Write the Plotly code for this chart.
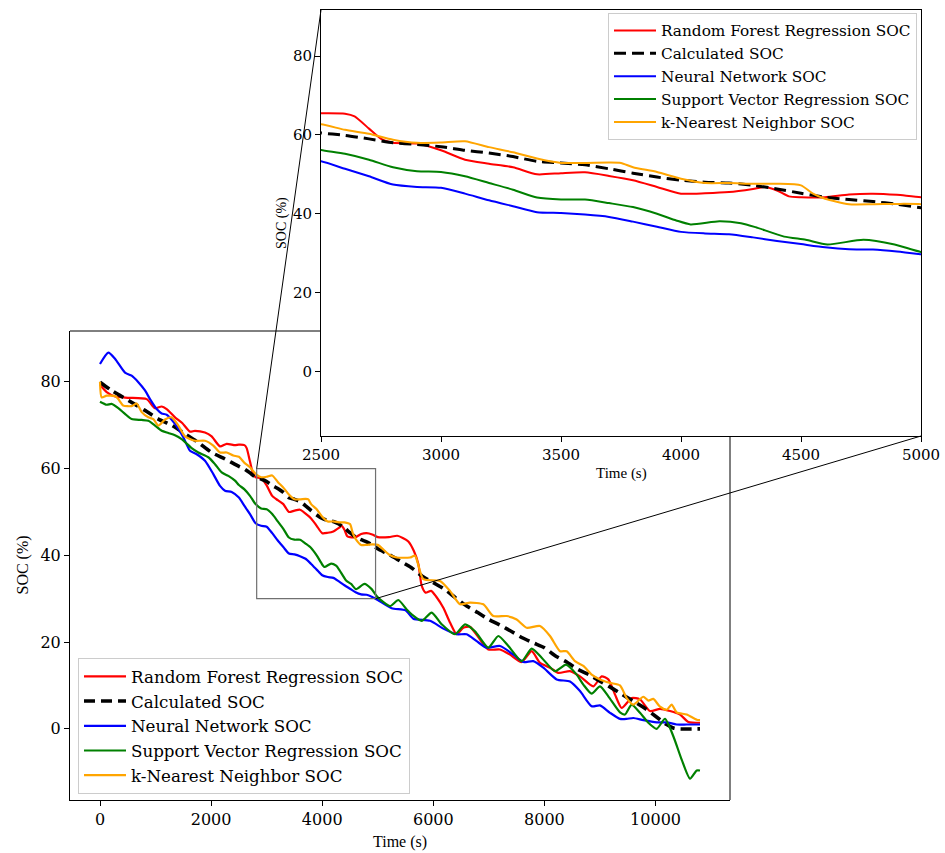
import plotly.graph_objects as go

# ---------------- data: SOC estimates over time ----------------
rf_time = [0, 120, 270, 500, 840, 990, 1110, 1200, 1350, 1480, 1620, 1710, 1890, 2010, 2160,
           2280, 2430, 2500, 2600, 2640, 2700, 2750, 2800, 2900, 3000, 3100, 3200, 3300, 3400,
           3500, 3600, 3700, 3800, 3900, 4000, 4100, 4200, 4300, 4350, 4400, 4450, 4500, 4600,
           4700, 4800, 4900, 5000, 5200, 5350, 5450, 5550, 5650, 5730, 5790, 5860, 5960, 6050,
           6180, 6300, 6420, 6540, 6660, 6840, 6990, 7200, 7380, 7590, 7770, 7920, 8100, 8250,
           8460, 8640, 8880, 9030, 9150, 9270, 9390, 9570, 9720, 9900, 10080, 10260, 10440,
           10590, 10800]
rf_soc = [79.3, 77.6, 76.6, 76.3, 76.0, 73.9, 74.3, 73.7, 71.8, 70.5, 68.5, 68.7, 68.3, 67.4, 65.1,
          65.7, 65.4, 65.5, 65.4, 64.7, 61.6, 59.0, 58.0, 57.8, 56.1, 53.7, 52.7, 51.8, 50.0,
          50.3, 50.5, 49.6, 48.5, 46.8, 45.1, 45.2, 45.5, 46.3, 46.8, 45.9, 44.4, 44.2, 44.2,
          44.9, 45.1, 44.8, 44.2, 44.2, 44.5, 44.0, 43.2, 41.0, 38.0, 33.0, 31.4, 31.8, 30.5,
          27.9, 24.5, 21.8, 23.3, 23.5, 20.6, 18.3, 18.3, 17.1, 15.4, 17.9, 15.2, 14.1, 12.9,
          13.3, 12.1, 9.8, 12.1, 11.4, 7.9, 4.8, 7.1, 6.8, 4.1, 4.6, 4.1, 3.3,
          1.6, 1.4]

calc_time = [0, 210, 510, 810, 1050, 1290, 1530, 1770, 2010, 2250,
             2500, 2600, 2700, 2800, 2900, 3000, 3100, 3200, 3300, 3400,
             3500, 3600, 3700, 3800, 3900, 4000, 4100, 4200, 4300, 4400,
             4500, 4600, 4700, 4800, 4900, 5000,
             5200, 5400, 5600, 5800, 6000, 6200, 6400, 6600, 6800, 7000,
             7200, 7400, 7600, 7800, 8000, 8200, 8400, 8600, 8800, 9000,
             9200, 9400, 9600, 9800, 10000, 10200,
             10320, 10400, 10800]
calc_soc = [79.9, 78.0, 75.7, 73.4, 71.4, 70.0, 68.0, 66.0, 63.7, 62.2,
            60.5, 59.9, 59.0, 58.0, 57.6, 57.0, 56.1, 55.4, 54.5, 53.3,
            52.9, 52.4, 51.4, 50.3, 49.3, 48.5, 48.0, 47.8, 47.2, 46.3,
            45.2, 44.2, 43.6, 43.1, 42.4, 41.5,
            40.2, 38.7, 37.2, 35.2, 33.7, 32.2, 30.2, 28.3, 26.8, 25.2,
            23.9, 22.5, 21.0, 19.8, 18.7, 16.8, 15.4, 13.7, 12.5, 11.0,
            9.5, 7.9, 6.4, 4.8, 2.9, 1.0,
            0.2, 0.0, 0.0]

nn_time = [0, 150, 270, 450, 570, 690, 810, 900, 1020, 1110, 1200, 1350, 1500, 1620, 1740,
           1890, 2040, 2160, 2250, 2370,
           2500, 2600, 2700, 2800, 2900, 3000, 3100, 3200, 3300, 3400,
           3500, 3600, 3700, 3800, 3900, 4000, 4100, 4200, 4300, 4400,
           4500, 4600, 4700, 4800, 4900, 5000,
           5250, 5500, 5640, 5940, 6180, 6420, 6600, 6780, 6960, 7200,
           7440, 7620, 7800, 7980, 8220, 8460, 8640, 8850, 9000, 9180,
           9360, 9480, 9600, 9780, 10020, 10200, 10380, 10560, 10800]
nn_soc = [84.1, 86.7, 85.3, 82.1, 81.4, 79.9, 78.0, 76.0, 73.7, 72.7, 72.4, 70.3, 67.2, 64.1, 63.3,
          61.8, 58.7, 56.0, 54.9, 54.6,
          53.3, 51.4, 49.5, 47.4, 46.8, 46.6, 45.1, 43.4, 41.9, 40.4,
          40.2, 39.8, 39.2, 38.0, 36.7, 35.4, 35.0, 34.8, 34.0, 33.1,
          32.3, 31.5, 31.0, 30.9, 30.4, 29.7,
          27.8, 27.3, 25.4, 24.9, 23.1, 21.8, 21.8, 20.2, 18.7, 19.1,
          17.1, 15.4, 15.6, 14.1, 11.4, 10.9, 8.7, 5.2, 5.4, 3.7,
          2.3, 2.3, 2.5, 2.0, 1.5, 1.5, 1.0, 1.0, 1.0]

svr_time = [0, 120, 210, 330, 450, 570, 750, 870, 990, 1110, 1230, 1350, 1470, 1650, 1770,
            1950, 2070, 2190, 2310, 2430,
            2500, 2600, 2700, 2800, 2900, 3000, 3100, 3200, 3300, 3400,
            3500, 3600, 3700, 3800, 3900, 3980, 4040, 4160, 4250, 4310,
            4430, 4520, 4610, 4760, 4890, 5000,
            5220, 5370, 5520, 5610, 5790, 5970, 6150, 6390, 6570, 6750,
            6990, 7170, 7350, 7590, 7770, 7950, 8190, 8390, 8580, 8700,
            8850, 9000, 9150, 9360, 9450, 9570, 9720, 9870, 10020, 10170,
            10320, 10470, 10620, 10740, 10800]
svr_soc = [75.4, 74.7, 74.9, 73.9, 72.6, 71.4, 71.2, 71.0, 69.9, 68.7, 68.2, 67.7, 66.8, 64.7, 63.7,
           62.6, 61.0, 59.1, 58.3, 57.2,
           56.2, 55.2, 53.7, 51.8, 50.8, 50.6, 49.5, 47.8, 46.1, 44.1,
           43.6, 43.6, 42.7, 41.7, 40.0, 38.3, 37.3, 38.1, 37.6, 36.6,
           34.2, 33.4, 32.2, 33.4, 32.2, 30.3,
           28.3, 29.7, 27.5, 26.4, 24.9, 26.8, 24.1, 21.8, 24.1, 22.5,
           18.7, 21.4, 19.1, 15.6, 18.5, 16.4, 13.3, 14.8, 12.5, 10.2,
           8.1, 9.8, 7.5, 3.8, 3.3, 5.6, 3.7, 1.4, 0.0, 2.3,
           -1.7, -7.1, -11.5, -9.6, -9.6]

knn_time = [0, 30, 120, 270, 330, 420, 570, 660, 750, 870, 960, 1050, 1170, 1290, 1410, 1530,
            1710, 1890, 2040, 2160, 2280, 2400,
            2500, 2600, 2700, 2800, 2900, 3000, 3100, 3200, 3300, 3400, 3500, 3600, 3700, 3750,
            3800, 3900, 4000, 4100, 4200, 4300, 4400, 4500, 4550, 4600, 4700, 4800, 4900, 5000,
            5200, 5340, 5580, 5670, 5820, 6120, 6300, 6480, 6660, 6900,
            7080, 7320, 7500, 7680, 7920, 8100, 8280, 8400, 8550, 8700,
            8850, 9000, 9180, 9360, 9480, 9600, 9780, 9870, 9960, 10080,
            10200, 10290, 10380, 10560, 10740, 10800]
knn_soc = [80.0, 76.4, 76.8, 76.7, 76.0, 74.5, 74.4, 75.0, 73.0, 71.8, 71.4, 69.9, 71.3, 71.8, 69.9, 67.4,
           66.4, 66.4, 65.3, 63.7, 63.7, 63.0,
           62.7, 61.3, 60.3, 58.8, 58.0, 58.1, 58.4, 56.9, 55.6, 54.0, 52.9, 52.9, 53.0, 52.9,
           51.8, 50.6, 48.9, 47.8, 47.8, 47.6, 47.6, 47.2, 45.1, 43.8, 42.4, 42.4, 42.5, 42.4,
           40.2, 39.5, 39.5, 39.9, 34.5, 34.1, 31.8, 28.7, 29.1, 28.7,
           26.0, 26.0, 25.2, 23.3, 23.7, 21.4, 17.9, 17.9, 15.6, 14.5,
           12.5, 11.4, 10.6, 10.0, 7.1, 5.6, 7.4, 6.5, 6.9, 5.1,
           4.4, 5.6, 3.8, 3.3, 2.1, 2.0]

series_names = ["Random Forest Regression SOC", "Calculated SOC", "Neural Network SOC",
                "Support Vector Regression SOC", "k-Nearest Neighbor SOC"]

main_xticks = [0, 2000, 4000, 6000, 8000, 10000]
inset_xticks = [2500, 3000, 3500, 4000, 4500, 5000]
soc_yticks = [0, 20, 40, 60, 80]

# zoom box marked on the main axes (time range, SOC range)
box_time = [2820, 4960]
box_soc = [30, 60]

# ---------------- layout geometry ----------------
W, H = 945, 853
main_xdom = [70 / W, 730 / W]
main_ydom = [(H - 800) / H, (H - 331) / H]
ins_xdom = [321 / W, 921 / W]
ins_ydom = [(H - 436) / H, (H - 10) / H]
main_xrange = [-540, 11340]
ins_xrange = [2500, 5000]
soc_range = [-16.4, 91.7]

TICK_FONT = "DejaVu Serif"
LABEL_FONT = "Liberation Serif"

styles = [
    dict(color="#ff0000", width=2.2),
    dict(color="#000000", width=3.6, dash="11px,6px"),
    dict(color="#0000ff", width=2.2),
    dict(color="#008000", width=2.2),
    dict(color="#ffa500", width=2.2),
]
inset_styles = [
    dict(color="#ff0000", width=2.0),
    dict(color="#000000", width=3.0, dash="12px,6px"),
    dict(color="#0000ff", width=2.0),
    dict(color="#008000", width=2.0),
    dict(color="#ffa500", width=2.0),
]

series = [(rf_time, rf_soc), (calc_time, calc_soc), (nn_time, nn_soc),
          (svr_time, svr_soc), (knn_time, knn_soc)]

fig = go.Figure()
for name, (t, s), st in zip(series_names, series, styles):
    fig.add_trace(go.Scatter(x=t, y=s, mode="lines", name=name,
                             line=dict(shape="spline", smoothing=0.6, **st),
                             xaxis="x", yaxis="y", legend="legend", hoverinfo="skip"))
for name, (t, s), st in zip(series_names, series, inset_styles):
    fig.add_trace(go.Scatter(x=t, y=s, mode="lines", name=name,
                             line=dict(shape="spline", smoothing=0.6, **st),
                             xaxis="x2", yaxis="y2", legend="legend2", hoverinfo="skip"))

axis_common = dict(showgrid=False, zeroline=False, showline=True, linecolor="black",
                   linewidth=1, ticks="outside", ticklen=5, tickwidth=1, tickcolor="black",
                   tickformat="d", automargin=False)


def to_paper(v, rng, dom):
    return dom[0] + (v - rng[0]) / (rng[1] - rng[0]) * (dom[1] - dom[0])


shapes = [
    # zoom box on the main axes
    dict(type="rect", xref="x", yref="y", x0=box_time[0], x1=box_time[1],
         y0=box_soc[0], y1=box_soc[1], line=dict(color="#707070", width=1.2), layer="above"),
    # main frame: top and right edges stop where the inset sits
    dict(type="line", xref="paper", yref="paper", x0=main_xdom[0], x1=ins_xdom[0],
         y0=main_ydom[1], y1=main_ydom[1], line=dict(color="black", width=1)),
    dict(type="line", xref="paper", yref="paper", x0=main_xdom[1], x1=main_xdom[1],
         y0=main_ydom[0], y1=ins_ydom[0], line=dict(color="black", width=1)),
    # connectors from zoom box to inset corners
    dict(type="line", xref="paper", yref="paper",
         x0=to_paper(box_time[0], main_xrange, main_xdom), y0=to_paper(box_soc[1], soc_range, main_ydom),
         x1=ins_xdom[0], y1=ins_ydom[1], line=dict(color="black", width=1)),
    dict(type="line", xref="paper", yref="paper",
         x0=to_paper(box_time[1], main_xrange, main_xdom), y0=to_paper(box_soc[0], soc_range, main_ydom),
         x1=ins_xdom[1], y1=ins_ydom[0], line=dict(color="black", width=1)),
]

title_common = dict(xref="paper", yref="paper", showarrow=False, xanchor="center", yanchor="middle")
annotations = [
    dict(text="Time (s)", x=400 / W, y=(H - 842) / H,
         font=dict(family=LABEL_FONT, size=16, color="black"), **title_common),
    dict(text="SOC (%)", x=22 / W, y=(H - 565.5) / H, textangle=-90,
         font=dict(family=LABEL_FONT, size=16, color="black"), **title_common),
    dict(text="Time (s)", x=621 / W, y=(H - 474) / H,
         font=dict(family=LABEL_FONT, size=15, color="black"), **title_common),
    dict(text="SOC (%)", x=282 / W, y=(H - 223) / H, textangle=-90,
         font=dict(family=LABEL_FONT, size=14, color="black"), **title_common),
]

legend_common = dict(xanchor="left", yanchor="top", bgcolor="rgba(255,255,255,0.8)",
                     bordercolor="#cccccc", borderwidth=1, tracegroupgap=0, itemwidth=42)

fig.update_layout(
    width=W, height=H,
    margin=dict(l=0, r=0, t=0, b=0, autoexpand=False),
    paper_bgcolor="white", plot_bgcolor="white",
    font=dict(family=TICK_FONT, color="black"),
    xaxis=dict(domain=main_xdom, range=main_xrange, tickvals=main_xticks, anchor="y",
               tickfont=dict(family=TICK_FONT, size=16), **axis_common),
    yaxis=dict(domain=main_ydom, range=soc_range, tickvals=soc_yticks, anchor="x",
               tickfont=dict(family=TICK_FONT, size=16), **axis_common),
    xaxis2=dict(domain=ins_xdom, range=ins_xrange, tickvals=inset_xticks, anchor="y2",
                mirror=True, tickfont=dict(family=TICK_FONT, size=15), **axis_common),
    yaxis2=dict(domain=ins_ydom, range=soc_range, tickvals=soc_yticks, anchor="x2",
                mirror=True, tickfont=dict(family=TICK_FONT, size=15), **axis_common),
    legend=dict(x=78 / W, y=(H - 658) / H, font=dict(family=TICK_FONT, size=16.7, color="black"),
                **legend_common),
    legend2=dict(x=608 / W, y=(H - 13) / H, font=dict(family=TICK_FONT, size=15.3, color="black"),
                 **legend_common),
    shapes=shapes,
    annotations=annotations,
    showlegend=True,
)

fig.write_html("out.html")
